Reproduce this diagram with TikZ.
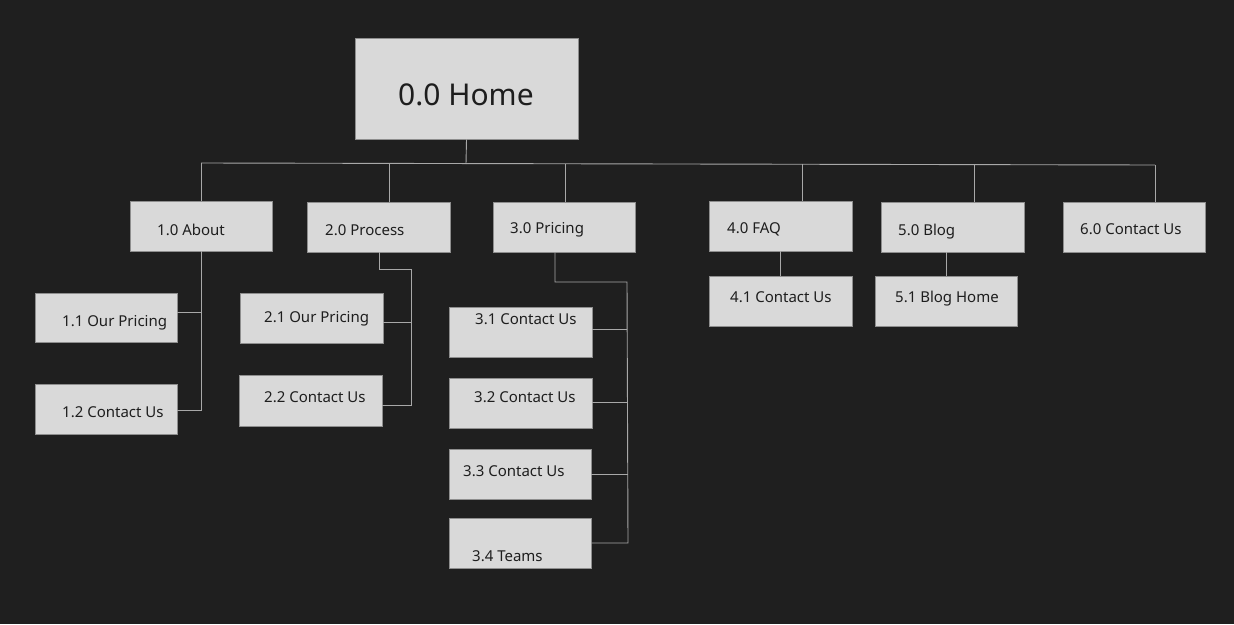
\documentclass[tikz,border=0pt]{standalone}
\usepackage{fontspec}
\setmainfont{Noto Sans}
\definecolor{bgc}{HTML}{1F1F1F}
\definecolor{boxc}{HTML}{D9D9D9}
\definecolor{boxline}{HTML}{8E8E8E}
\definecolor{linec}{HTML}{A8A8A8}
\definecolor{txtc}{HTML}{1E1E1E}
\begin{document}
\begin{tikzpicture}[x=1pt,y=-1pt,
  box/.style={draw=boxline,fill=boxc,line width=0.8pt,inner sep=0pt,minimum width=142pt,minimum height=50pt},
  lbl/.style={anchor=base west,inner sep=0pt,text=txtc,font=\fontsize{15}{18}\selectfont},
  conn/.style={draw=linec,line width=0.9pt}]
\fill[bgc] (0,0) rectangle (1234,624);
\useasboundingbox (0,0) rectangle (1234,624);
% boxes
\node[box,minimum width=223pt,minimum height=101pt] (home) at (466.5,88.5) {};
\node[box] (about) at (201,226) {};
\node[box,minimum width=143pt] (process) at (378.5,227) {};
\node[box] (pricing) at (564,227) {};
\node[box,minimum width=143pt] (faq) at (780.5,226) {};
\node[box,minimum width=143pt] (blog) at (952.5,227) {};
\node[box] (contact) at (1134,227) {};
\node[box,minimum width=143pt] (c41) at (780.5,301) {};
\node[box] (c51) at (946,301) {};
\node[box,minimum height=49pt] (c11) at (106,317.5) {};
\node[box] (c12) at (106,409) {};
\node[box,minimum width=143pt] (c21) at (311.5,318) {};
\node[box,minimum width=143pt,minimum height=51pt] (c22) at (310.5,400.5) {};
\node[box,minimum width=143pt] (c31) at (520.5,332) {};
\node[box,minimum width=143pt] (c32) at (520.5,403) {};
\node[box] (c33) at (520,474) {};
\node[box] (c34) at (520,543) {};
% labels
\node[lbl,font=\fontsize{30}{36}\selectfont] (thome) at (398,105) {0.0 Home};
\node[lbl] (tabout) at (157,235) {1.0 About};
\node[lbl] (tprocess) at (325,235) {2.0 Process};
\node[lbl] (tpricing) at (510,233) {3.0 Pricing};
\node[lbl] (tfaq) at (727,233) {4.0 FAQ};
\node[lbl] (tblog) at (898,235) {5.0 Blog};
\node[lbl] (tcontact) at (1080,234) {6.0 Contact Us};
\node[lbl] (t41) at (730,302) {4.1 Contact Us};
\node[lbl] (t51) at (895,302) {5.1 Blog Home};
\node[lbl] (t11) at (62,326) {1.1 Our Pricing};
\node[lbl] (t12) at (62,417) {1.2 Contact Us};
\node[lbl] (t21) at (264,322) {2.1 Our Pricing};
\node[lbl] (t22) at (264,402) {2.2 Contact Us};
\node[lbl] (t31) at (475,324) {3.1 Contact Us};
\node[lbl] (t32) at (474,402) {3.2 Contact Us};
\node[lbl] (t33) at (463,476) {3.3 Contact Us};
\node[lbl] (t34) at (472,561) {3.4 Teams};
% bus and drops
\coordinate (bus) at (466,164);
\coordinate (busL) at (201,163);
\coordinate (busR) at (1155,165);
\coordinate (dproc) at (389,164);
\coordinate (dprice) at (565,164);
\coordinate (dfaq) at (802,164);
\coordinate (dblog) at (974,164);
\coordinate (dcont) at (1155,165);
\draw[conn] (home.south) -- (bus);
\draw[conn] (busL) -- (busR);
\draw[conn] (busL) -- (busL |- about.north);
\draw[conn] (dproc) -- (dproc |- process.north);
\draw[conn] (dprice) -- (dprice |- pricing.north);
\draw[conn] (dfaq) -- (dfaq |- faq.north);
\draw[conn] (dblog) -- (dblog |- blog.north);
\draw[conn] (dcont) -- (dcont |- contact.north);
% about branch
\coordinate (ab1) at (201,312);
\coordinate (ab2) at (201,410);
\draw[conn] (about.south) -- (ab2) -- (ab2 -| c12.east);
\draw[conn] (ab1) -- (ab1 -| c11.east);
% process branch
\coordinate (pr0) at (379,269);
\coordinate (pr1) at (411,269);
\coordinate (pr2) at (411,405);
\coordinate (pr3) at (411,322);
\draw[conn] (process.south -| pr0) -- (pr0) -- (pr1) -- (pr2) -- (pr2 -| c22.east);
\draw[conn] (pr3) -- (pr3 -| c21.east);
% pricing branch
\coordinate (pc0) at (555,282);
\coordinate (pc1) at (627,282);
\coordinate (pc2) at (628,543);
\coordinate (pb1) at (627,329);
\coordinate (pb2) at (627,402);
\coordinate (pb3) at (628,474);
\draw[conn] (pricing.south -| pc0) -- (pc0) -- (pc1) -- (pc2) -- (pc2 -| c34.east);
\draw[conn] (pb1) -- (pb1 -| c31.east);
\draw[conn] (pb2) -- (pb2 -| c32.east);
\draw[conn] (pb3) -- (pb3 -| c33.east);
% faq and blog
\draw[conn] (faq.south) -- (c41.north);
\draw[conn] (blog.south -| c51.north) -- (c51.north);
\end{tikzpicture}
\end{document}
